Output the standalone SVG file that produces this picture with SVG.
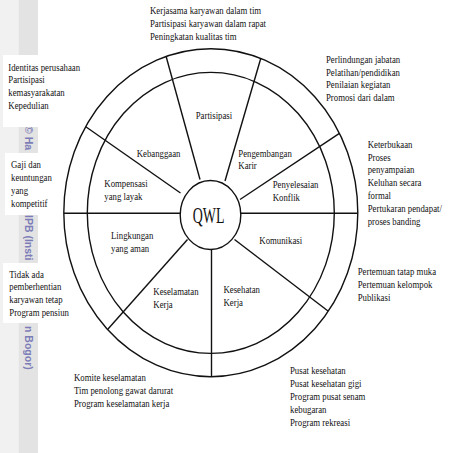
<svg xmlns="http://www.w3.org/2000/svg" width="453" height="453" viewBox="0 0 453 453">
<style>
.t{font-family:"Liberation Serif","Times New Roman",serif;font-size:10.2px;fill:#111}
.q{font-family:"Liberation Serif","Times New Roman",serif;font-size:22.5px;fill:#111}
.wm{font-family:"Liberation Sans",Arial,sans-serif;font-weight:bold;font-size:10.5px;fill:#7c7cb8}
.ring{fill:none;stroke:#111;stroke-width:1.4}
.sp{stroke:#111;stroke-width:1.4;fill:none}
.box{fill:#fff}
</style>
<rect x="0" y="0" width="453" height="453" fill="#fff"/>
<rect x="0" y="0" width="18.5" height="453" fill="#f1f1f1"/>
<rect x="18.5" y="0" width="19.5" height="453" fill="#e3e3e3"/>
<g id="watermark">
<text class="wm" transform="translate(25,126) rotate(90)">© Ha</text>
<text class="wm" transform="translate(25,215) rotate(90)">IPB (Insti</text>
<text class="wm" transform="translate(25,326) rotate(90)">n Bogor)</text>
</g>
<rect class="box" x="3" y="55" width="45" height="72"/>
<rect class="box" x="5" y="153" width="43" height="62"/>
<rect class="box" x="3" y="263" width="45" height="60"/>
<g id="rings">
<ellipse class="ring" cx="210.8" cy="212.7" rx="147" ry="164"/>
<ellipse class="ring" cx="210.8" cy="212.9" rx="123.5" ry="140.5"/>
</g>
<g id="connectors">
<line class="sp" x1="200" y1="179.5" x2="166.2" y2="56.7"/>
<line class="sp" x1="225" y1="181" x2="260.8" y2="58.3"/>
<line class="sp" x1="240" y1="199.5" x2="339.4" y2="133.3"/>
<line class="sp" x1="240.8" y1="213.3" x2="357.8" y2="213.3"/>
<line class="sp" x1="234.5" y1="239.5" x2="328" y2="311"/>
<line class="sp" x1="211.5" y1="249.5" x2="211.5" y2="376.7"/>
<line class="sp" x1="187.5" y1="239.5" x2="107.8" y2="329.3"/>
<line class="sp" x1="64" y1="213.3" x2="180.2" y2="213.3"/>
<line class="sp" x1="180.5" y1="193" x2="85.8" y2="126.7"/>
</g>
<g id="qwl">
<ellipse class="ring" cx="210.5" cy="215" rx="30.3" ry="34.5"/>
<g transform="translate(192.7,223.3) scale(0.62,1)"><text class="q">QWL</text></g>
</g>
<g id="seg-partisipasi" transform="translate(195.7,119.3) scale(0.86,1)"><text class="t">Partisipasi</text></g>
<g id="seg-kebanggaan" transform="translate(136.7,156.7) scale(0.86,1)"><text class="t">Kebanggaan</text></g>
<g id="seg-kompensasi" transform="translate(104.3,186.7) scale(0.86,1)"><text class="t"><tspan x="0" y="0">Kompensasi</tspan><tspan x="0" y="13">yang layak</tspan></text></g>
<g id="seg-pengembangan" transform="translate(238.3,156.7) scale(0.86,1)"><text class="t"><tspan x="0" y="0">Pengembangan</tspan><tspan x="0" y="12.5">Karir</tspan></text></g>
<g id="seg-penyelesaian" transform="translate(272.7,188.3) scale(0.86,1)"><text class="t"><tspan x="0" y="0">Penyelesaian</tspan><tspan x="0" y="13">Konflik</tspan></text></g>
<g id="seg-komunikasi" transform="translate(259.3,244.3) scale(0.86,1)"><text class="t">Komunikasi</text></g>
<g id="seg-kesehatan" transform="translate(223.5,292.7) scale(0.86,1)"><text class="t"><tspan x="0" y="0">Kesehatan</tspan><tspan x="0" y="13">Kerja</tspan></text></g>
<g id="seg-keselamatan" transform="translate(153.3,295) scale(0.86,1)"><text class="t"><tspan x="0" y="0">Keselamatan</tspan><tspan x="0" y="13">Kerja</tspan></text></g>
<g id="seg-lingkungan" transform="translate(111,239.3) scale(0.86,1)"><text class="t"><tspan x="0" y="0">Lingkungan</tspan><tspan x="0" y="13">yang aman</tspan></text></g>
<g id="note-partisipasi" transform="translate(150,14) scale(0.86,1)"><text class="t"><tspan x="0" y="0">Kerjasama karyawan dalam tim</tspan><tspan x="0" y="12.8">Partisipasi karyawan dalam rapat</tspan><tspan x="0" y="25.6">Peningkatan kualitas tim</tspan></text></g>
<g id="note-kebanggaan" transform="translate(8.3,70.5) scale(0.86,1)"><text class="t"><tspan x="0" y="0">Identitas perusahaan</tspan><tspan x="0" y="13">Partisipasi</tspan><tspan x="0" y="26">kemasyarakatan</tspan><tspan x="0" y="39">Kepedulian</tspan></text></g>
<g id="note-kompensasi" transform="translate(11,168.3) scale(0.86,1)"><text class="t"><tspan x="0" y="0">Gaji dan</tspan><tspan x="0" y="13">keuntungan</tspan><tspan x="0" y="26">yang</tspan><tspan x="0" y="39">kompetitif</tspan></text></g>
<g id="note-lingkungan" transform="translate(9.3,277.7) scale(0.86,1)"><text class="t"><tspan x="0" y="0">Tidak ada</tspan><tspan x="0" y="12.8">pemberhentian</tspan><tspan x="0" y="25.6">karyawan tetap</tspan><tspan x="0" y="38.4">Program pensiun</tspan></text></g>
<g id="note-pengembangan" transform="translate(326,63.3) scale(0.86,1)"><text class="t"><tspan x="0" y="0">Perlindungan jabatan</tspan><tspan x="0" y="12.6">Pelatihan/pendidikan</tspan><tspan x="0" y="25.2">Penilaian kegiatan</tspan><tspan x="0" y="37.8">Promosi dari dalam</tspan></text></g>
<g id="note-penyelesaian" transform="translate(367.7,147.7) scale(0.86,1)"><text class="t"><tspan x="0" y="0">Keterbukaan</tspan><tspan x="0" y="12.9">Proses</tspan><tspan x="0" y="25.8">penyampaian</tspan><tspan x="0" y="38.7">Keluhan secara</tspan><tspan x="0" y="51.6">formal</tspan><tspan x="0" y="64.5">Pertukaran pendapat/</tspan><tspan x="0" y="77.4">proses banding</tspan></text></g>
<g id="note-komunikasi" transform="translate(357.7,275.3) scale(0.86,1)"><text class="t"><tspan x="0" y="0">Pertemuan tatap muka</tspan><tspan x="0" y="13">Pertemuan kelompok</tspan><tspan x="0" y="26">Publikasi</tspan></text></g>
<g id="note-kesehatan" transform="translate(290,374.3) scale(0.86,1)"><text class="t"><tspan x="0" y="0">Pusat kesehatan</tspan><tspan x="0" y="12.9">Pusat kesehatan gigi</tspan><tspan x="0" y="25.8">Program pusat senam</tspan><tspan x="0" y="38.7">kebugaran</tspan><tspan x="0" y="51.6">Program rekreasi</tspan></text></g>
<g id="note-keselamatan" transform="translate(74,381) scale(0.86,1)"><text class="t"><tspan x="0" y="0">Komite keselamatan</tspan><tspan x="0" y="13">Tim penolong gawat darurat</tspan><tspan x="0" y="26">Program keselamatan kerja</tspan></text></g>
</svg>
